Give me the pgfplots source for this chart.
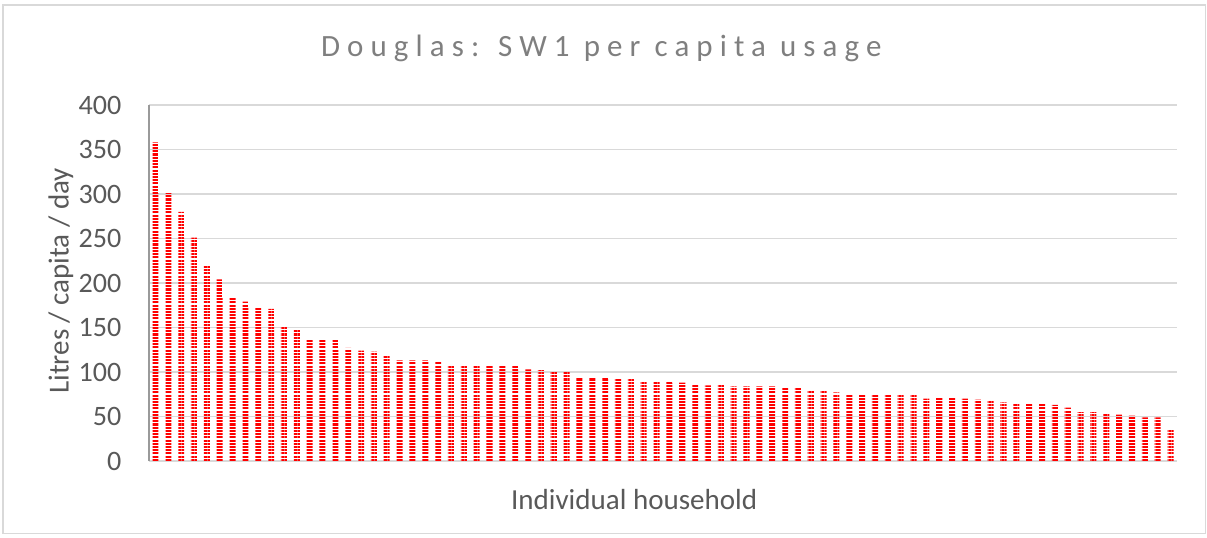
\documentclass[border=0pt]{standalone}
\usepackage{fontspec}
\setmainfont{Carlito}
\newfontfamily\titlefont[LetterSpace=23]{Carlito}
\usepackage{pgfplots}
\pgfplotsset{compat=1.18}
\usetikzlibrary{patterns.meta}
\definecolor{txtgray}{HTML}{595959}
\definecolor{ttlgray}{HTML}{7F7F7F}
\definecolor{gridgray}{HTML}{D9D9D9}
\definecolor{axgray}{HTML}{9A9A9A}

\begin{document}
\begin{tikzpicture}
\useasboundingbox (0,0) rectangle (506.94pt,-225.54pt);
\draw[gridgray, line width=0.7pt] (1.26pt,-2.1pt) rectangle (506.3pt,-224.1pt);
\begin{axis}[
  at={(62.58pt,-193.62pt)}, anchor=south west,
  scale only axis, width=431.76pt, height=149.52pt,
  xmin=0.5, xmax=80.5, ymin=0, ymax=400, clip=false,
  ytick={0,50,...,400}, xtick=\empty,
  ymajorgrids, grid style={gridgray, line width=0.8pt},
  axis x line*=bottom, axis y line*=left,
  x axis line style={gridgray, line width=0.8pt, -},
  y axis line style={axgray, line width=0.8pt, -},
  major tick length=0pt,
  /pgf/number format/assume math mode=true,
  yticklabel style={font=\fontsize{11.8}{14}\selectfont, text=txtgray, inner sep=0pt, anchor=east, xshift=-11.4pt},
  ylabel={Litres / capita / day},
  ylabel style={font=\fontsize{12.2}{14}\selectfont, text=txtgray, at={(axis description cs:-0.0856,0.506)}, anchor=center},
  xlabel={Individual household},
  xlabel style={font=\fontsize{12.2}{14}\selectfont, text=txtgray, at={(axis description cs:0.472,-0.135)}, anchor=base},
]
\addplot[ybar, bar width=0.47, draw=none, pattern={Lines[angle=0,distance=1.35pt,line width=0.85pt]}, pattern color=red] coordinates {
(1,358)(2,301)(3,280)(4,251)(5,219)(6,204)(7,183)(8,179)(9,173)(10,171)
(11,151)(12,147)(13,136)(14,136)(15,136)(16,127)(17,124)(18,123)(19,118)(20,113)
(21,113)(22,113)(23,112)(24,108)(25,108)(26,108)(27,108)(28,107)(29,107)(30,103)
(31,102)(32,101)(33,100)(34,94)(35,93)(36,93)(37,92)(38,92)(39,89)(40,89)
(41,89)(42,88)(43,86)(44,85)(45,86)(46,84)(47,84)(48,84)(49,84)(50,83)
(51,82)(52,79)(53,79)(54,77)(55,75)(56,75)(57,75)(58,75)(59,75)(60,74)
(61,70)(62,71)(63,71)(64,70)(65,69)(66,68)(67,66)(68,65)(69,65)(70,64)
(71,63)(72,60)(73,55)(74,55)(75,53)(76,52)(77,51)(78,49)(79,49)(80,35)};
\node[anchor=base, text=ttlgray, font=\titlefont\fontsize{13}{16}\selectfont, inner sep=0pt]
  at (axis description cs:0.44,1.1376) {Douglas: SW1 per capita usage};
\end{axis}
\end{tikzpicture}
\end{document}
